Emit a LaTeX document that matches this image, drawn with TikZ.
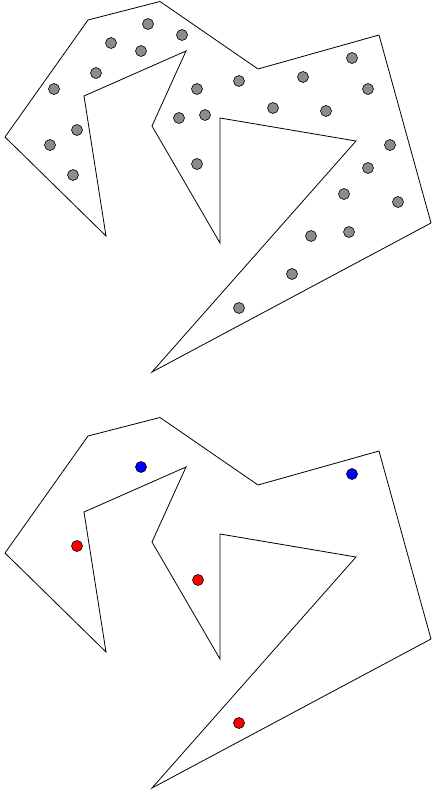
\documentclass[tikz,border=0pt]{standalone}
\tikzset{
  sample/.style={circle,draw,fill=gray!90,inner sep=0pt,minimum size=11pt,line width=0.6pt},
  guardred/.style={circle,draw,fill=red,inner sep=0pt,minimum size=11pt,line width=0.6pt},
  guardblue/.style={circle,draw,fill=blue,inner sep=0pt,minimum size=11pt,line width=0.6pt},
  room/.style={line width=0.8pt,line join=miter}
}
\begin{document}
\begin{tikzpicture}[x=1pt,y=-1pt]
    \useasboundingbox (0,0) rectangle (431,792);

    % Polygon outline (drawn twice)
    \tikzset{
      pics/room/.style={
        code={
          \draw[room] (88,20) -- (160,1.5) -- (258,69) -- (379,35) -- (431,223)
            -- (152,372) -- (356,141) -- (220,118) -- (220,243) -- (152,126)
            -- (186,51) -- (84,96) -- (106,236) -- (5,137) -- cycle;
        }
      }
    }
    \pic at (0,0)   {room};
    \pic at (0,416) {room};

    % Sample points (top)
    \foreach \px/\py [count=\i] in {148/24, 182/35, 111/43, 141/51, 96/73,
        54/89, 197/89, 179/118, 205/115, 77/130, 50/145, 73/175, 197/164,
        352/58, 239/81, 303/77, 368/89, 273/108, 326/111, 390/145, 368/168,
        344/194, 398/202, 311/236, 349/232, 292/274, 239/308}
      \node[sample] (s\i) at (\px,\py) {};

    % Guards (bottom)
    \node[guardblue] (b1) at (141,467) {};
    \node[guardblue] (b2) at (352,474) {};
    \node[guardred]  (r1) at (77,546)  {};
    \node[guardred]  (r2) at (198,580) {};
    \node[guardred]  (r3) at (239,723) {};

\end{tikzpicture}
\end{document}
